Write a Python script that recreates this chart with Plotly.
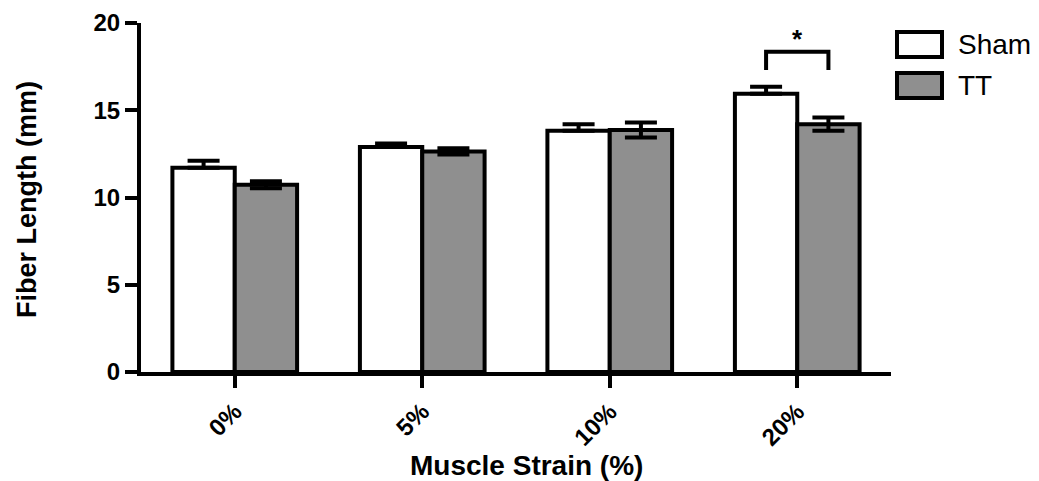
import plotly.graph_objects as go

categories = ["0%", "5%", "10%", "20%"]
sham_mean = [11.7, 12.9, 13.82, 15.95]
sham_err = [0.4, 0.2, 0.38, 0.4]
tt_mean = [10.73, 12.64, 13.87, 14.2]
tt_err = [0.2, 0.18, 0.43, 0.38]

sig_index = 3
sig_text = "*"
x_title = "Muscle Strain (%)"
y_title = "Fiber Length (mm)"

FONT = "Liberation Sans"
BARGAP = 0.335
OFF = 8  # browser body margin

L, R, T, B = 141 - OFF, 148, 23 - OFF, 109
W, H = 1039 - OFF, 481 - OFF
PW, PH = W - L - R, H - T - B


def px_x(x):
    return (x - OFF - L) / PW


def px_y(y):
    return (H - B - (y - OFF)) / PH


fig = go.Figure()
fig.add_trace(go.Bar(
    x=categories, y=sham_mean, name="Sham",
    marker=dict(color="white", line=dict(color="black", width=4)),
    error_y=dict(type="data", array=sham_err, arrayminus=[0]*len(sham_err),
                 symmetric=False, color="black", thickness=4, width=16),
    showlegend=False,
))
fig.add_trace(go.Bar(
    x=categories, y=tt_mean, name="TT",
    marker=dict(color="#8f8f8f", line=dict(color="black", width=4)),
    error_y=dict(type="data", array=tt_err, symmetric=True,
                 color="black", thickness=4, width=16),
    showlegend=False,
))

# significance bracket
half = (1 - BARGAP) / 4
x0 = sig_index - half
x1 = sig_index + half
top_err = max(sham_mean[sig_index] + sham_err[sig_index], tt_mean[sig_index] + tt_err[sig_index])
y_leg = top_err + 0.95
y_top = top_err + 2.0
fig.add_shape(type="path",
              path=f"M {x0},{y_leg} L {x0},{y_top} L {x1},{y_top} L {x1},{y_leg}",
              xref="x", yref="y", line=dict(color="black", width=4))
fig.add_annotation(x=sig_index, y=y_top, xref="x", yref="y", text="<b>" + sig_text + "</b>",
                   showarrow=False, yanchor="bottom", yshift=-4,
                   font=dict(family=FONT, size=26, color="black"))

# legend (drawn manually)
legend_items = [("Sham", "white"), ("TT", "#8f8f8f")]
for i, (label, col) in enumerate(legend_items):
    ytop = 32 + i * 41
    fig.add_shape(type="rect", xref="paper", yref="paper",
                  x0=px_x(897), x1=px_x(942),
                  y0=px_y(ytop), y1=px_y(ytop + 25),
                  fillcolor=col, line=dict(color="black", width=4))
    fig.add_annotation(xref="paper", yref="paper", x=px_x(956),
                       y=px_y(ytop + 12.5), text=label, showarrow=False,
                       xanchor="left", yanchor="middle",
                       font=dict(family=FONT, size=28, color="black"))

# axis titles
fig.add_annotation(xref="paper", yref="paper", x=px_x(526), y=px_y(465),
                   text="<b>" + x_title + "</b>", showarrow=False,
                   xanchor="center", yanchor="middle",
                   font=dict(family=FONT, size=28, color="black"))
fig.add_annotation(xref="paper", yref="paper", x=px_x(27), y=px_y(200),
                   text="<b>" + y_title + "</b>", showarrow=False, textangle=-90,
                   xanchor="center", yanchor="middle",
                   font=dict(family=FONT, size=27, color="black"))

fig.update_layout(
    width=W, height=H,
    margin=dict(l=L, r=R, t=T, b=B, autoexpand=False),
    paper_bgcolor="white", plot_bgcolor="white",
    barmode="group", bargap=BARGAP, bargroupgap=0,
    font=dict(family=FONT, color="black"),
)
fig.update_xaxes(
    showline=True, linecolor="black", linewidth=4,
    ticks="outside", ticklen=12, tickwidth=4, tickcolor="black",
    tickangle=-45, tickfont=dict(family=FONT, size=24, weight="bold"),
    range=[-0.5, 3.5], showgrid=False, zeroline=False, automargin=False,
)
fig.update_yaxes(
    range=[0, 20], dtick=5, showline=True, linecolor="black", linewidth=4,
    ticks="outside", ticklen=12, tickwidth=4, tickcolor="black",
    tickfont=dict(family=FONT, size=24, weight="bold"),
    showgrid=False, zeroline=False, automargin=False,
)

fig.write_html("out.html")
